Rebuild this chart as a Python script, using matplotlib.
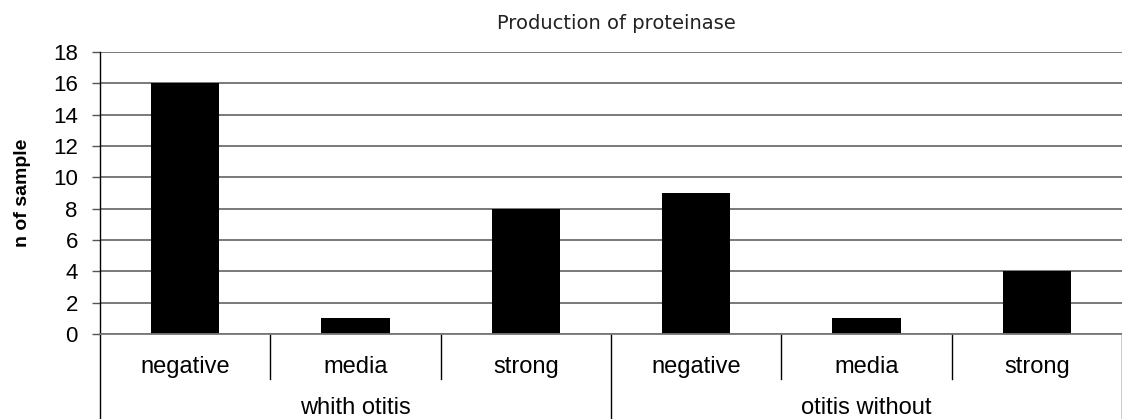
import matplotlib
matplotlib.use("Agg")
import matplotlib.pyplot as plt
import matplotlib.transforms as mtransforms

title = "Production of proteinase"
ylabel = "n of sample"
groups = ["whith otitis", "otitis without"]
categories = ["negative", "media", "strong", "negative", "media", "strong"]
values = [16, 1, 8, 9, 1, 4]
yticks = [0, 2, 4, 6, 8, 10, 12, 14, 16, 18]

W, H = 1122, 419
fig = plt.figure(figsize=(W / 100, H / 100), dpi=100)
left, right, top, bottom = 100, 1122, 52, 334
ax = fig.add_axes([left / W, (H - bottom) / H, (right - left) / W, (bottom - top) / H])

x = [i + 0.5 for i in range(len(values))]
ax.bar(x, values, width=0.4, color="black", zorder=3)
ax.set_xlim(0, len(values))
ax.set_ylim(0, 18)
ax.set_yticks(yticks)
ax.set_yticklabels([str(t) for t in yticks], fontsize=16, family="Liberation Sans")
ax.set_xticks([])
ax.yaxis.grid(True, color="#555555", linewidth=1.1, zorder=0)
ax.set_axisbelow(True)
for s in ["top", "right", "bottom"]:
    ax.spines[s].set_visible(False)
ax.spines["left"].set_color("black")
ax.spines["left"].set_linewidth(1.0)
ax.tick_params(axis="y", direction="out", length=6, width=1, color="#555555", pad=10)
ax.axhline(0, color="#777777", linewidth=1.3, zorder=4, clip_on=False)

fig.text(23 / W, 1 - 193 / H, ylabel, rotation=90, ha="center", va="center",
         fontsize=14, fontweight="bold", family="Liberation Sans")
fig.text(616 / W, 1 - 29 / H, title, ha="center", va="baseline", fontsize=14,
         family="DejaVu Sans", color="#222222")

trans = mtransforms.blended_transform_factory(ax.transData, ax.transAxes)
ph = bottom - top
inner_bot = -(379 - bottom) / ph
outer_bot = -(H + 2 - bottom) / ph
n = len(values)
per = n // len(groups)
for i in range(n + 1):
    yb = outer_bot if i % per == 0 else inner_bot
    ax.plot([i, i], [0, yb], color="black", linewidth=1.0, transform=trans, clip_on=False)

for i, c in enumerate(categories):
    ax.text(i + 0.5, -(373 - bottom) / ph, c, transform=trans, ha="center", va="baseline",
            fontsize=17, family="Liberation Sans")
for g, name in enumerate(groups):
    ax.text(g * per + per / 2, -(414 - bottom) / ph, name, transform=trans, ha="center",
            va="baseline", fontsize=17, family="Liberation Sans")

fig.savefig("out.png", dpi=100)
